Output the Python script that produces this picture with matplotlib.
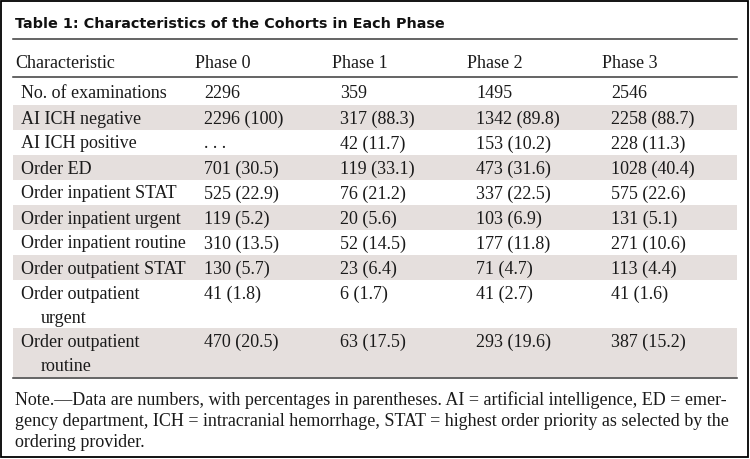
import matplotlib
matplotlib.use("Agg")
import matplotlib.pyplot as plt
from matplotlib.patches import Rectangle

title = "Table 1: Characteristics of the Cohorts in Each Phase"
header = ["Characteristic", "Phase 0", "Phase 1", "Phase 2", "Phase 3"]
characteristics = [
    ["No. of examinations"],
    ["AI ICH negative"],
    ["AI ICH positive"],
    ["Order ED"],
    ["Order inpatient STAT"],
    ["Order inpatient urgent"],
    ["Order inpatient routine"],
    ["Order outpatient STAT"],
    ["Order outpatient", "urgent"],
    ["Order outpatient", "routine"],
]
n_phase0 = [2296, 2296, None, 701, 525, 119, 310, 130, 41, 470]
p_phase0 = [None, 100, None, 30.5, 22.9, 5.2, 13.5, 5.7, 1.8, 20.5]
n_phase1 = [359, 317, 42, 119, 76, 20, 52, 23, 6, 63]
p_phase1 = [None, 88.3, 11.7, 33.1, 21.2, 5.6, 14.5, 6.4, 1.7, 17.5]
n_phase2 = [1495, 1342, 153, 473, 337, 103, 177, 71, 41, 293]
p_phase2 = [None, 89.8, 10.2, 31.6, 22.5, 6.9, 11.8, 4.7, 2.7, 19.6]
n_phase3 = [2546, 2258, 228, 1028, 575, 131, 271, 113, 41, 387]
p_phase3 = [None, 88.7, 11.3, 40.4, 22.6, 5.1, 10.6, 4.4, 1.6, 15.2]
note_lines = [
    "Note.\u2014Data are numbers, with percentages in parentheses. AI = artificial intelligence, ED = emer-",
    "gency department, ICH = intracranial hemorrhage, STAT = highest order priority as selected by the",
    "ordering provider.",
]

def fmt(n, p):
    if n is None:
        return ". . ."
    if p is None:
        return f"{n}"
    return f"{n} ({p:g})"

columns = [
    [fmt(n, p) for n, p in zip(n_phase0, p_phase0)],
    [fmt(n, p) for n, p in zip(n_phase1, p_phase1)],
    [fmt(n, p) for n, p in zip(n_phase2, p_phase2)],
    [fmt(n, p) for n, p in zip(n_phase3, p_phase3)],
]

W, H = 750, 459
fig = plt.figure(figsize=(W / 100, H / 100), dpi=100)
ax = fig.add_axes([0, 0, 1, 1])
ax.set_xlim(0, W)
ax.set_ylim(H, 0)
ax.axis("off")

serif = ["Liberation Serif", "DejaVu Serif"]
body_fs = 13.0
shade = "#e5dfdd"
line_c = "#3a3a3a"
txt_c = "#1a1a1a"

# outer frame
ax.add_patch(Rectangle((1, 1), W - 3, H - 3, fill=False, ec="black", lw=1.3))

# title
ax.text(15, 27.5, title, fontsize=10.4, fontweight="bold", family=["DejaVu Sans"],
        va="baseline", ha="left", color="#111111")
x0, x1 = 13, 737
ax.plot([x0, x1], [39, 39], color=line_c, lw=1.1)

# header
col_x_head = [15, 195, 332, 467, 602]
col_x_val = [21, 204, 340, 476, 611]
for x, h in zip(col_x_head, header):
    ax.text(x, 68, h, fontsize=body_fs, family=serif, va="baseline", ha="left", color=txt_c)
ax.plot([x0, x1], [77, 77], color=line_c, lw=1.1)

bounds = [80, 105, 130, 155, 180, 205, 230, 255, 280, 328, 377]
for i, lab in enumerate(characteristics):
    top, bot = bounds[i], bounds[i + 1]
    if i % 2 == 1:
        ax.add_patch(Rectangle((x0, top), x1 - x0, bot - top, color=shade, lw=0, zorder=0))
    if len(lab) == 1:
        yb = (top + bot) / 2 + 6
    else:
        yb = top + 19
    ax.text(col_x_val[0], yb, lab[0], fontsize=body_fs, family=serif, va="baseline", ha="left", color=txt_c)
    if len(lab) > 1:
        ax.text(col_x_val[0] + 20, yb + 24, lab[1], fontsize=body_fs, family=serif, va="baseline", ha="left", color=txt_c)
    for j, col in enumerate(columns):
        ax.text(col_x_val[j + 1], yb, col[i], fontsize=body_fs, family=serif, va="baseline", ha="left", color=txt_c)
ax.plot([x0, x1], [378, 378], color=line_c, lw=1.1)

for k, line in enumerate(note_lines):
    ax.text(15, 405 + 21 * k, line, fontsize=13.0, family=serif, va="baseline", ha="left", color=txt_c)

fig.savefig("out.png", dpi=100)
